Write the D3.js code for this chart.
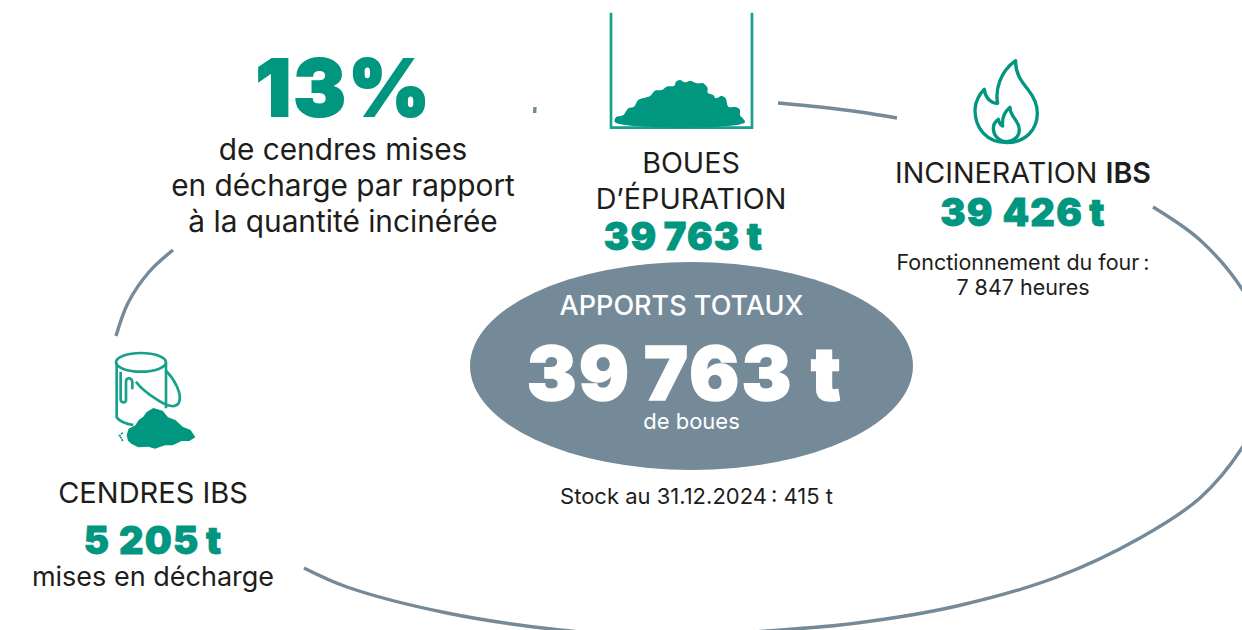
<!DOCTYPE html>
<html>
<head>
<meta charset="utf-8">
<script src="https://cdn.jsdelivr.net/npm/d3@7"></script>
<style>
  html, body { margin: 0; padding: 0; background: #fff; }
  svg { display: block; }
  text { font-family: Inter, "Open Sans", sans-serif; text-anchor: middle; }
</style>
</head>
<body>
<svg id="chart"></svg>
<script>
// *** Data ***
var totalLabel = "APPORTS TOTAUX";
var totalValue = "39\u2009763 t";
var totalUnit = "de boues";
var stockLabel = "Stock au 31.12.2024\u2009: 415 t";
var percentValue = "13%";
var percentLines = ["de cendres mises", "en décharge par rapport", "à la quantité incinérée"];
var sludgeLines = ["BOUES", "D’ÉPURATION"];
var sludgeValue = "39\u2009763\u2009t";
var burnLabel = "INCINERATION ";
var burnLabelBold = "IBS";
var burnValue = "39 426\u2009t";
var burnHours = ["Fonctionnement du four\u2009:", "7 847 heures"];
var ashLabel = "CENDRES IBS";
var ashValue = "5 205\u2009t";
var ashNote = "mises en décharge";

var svgWidth = 1242, svgHeight = 630;
var teal = "#00967f", slate = "#748a98", ink = "#1d1d1b";

var svg = d3.select("#chart")
    .attr("width", svgWidth)
    .attr("height", svgHeight)
    .attr("viewBox", "0 0 " + svgWidth + " " + svgHeight);

// *** The ring: pieces traced from crops, not values ***
var ringPieces = [
    [[778, 103], [820, 107], [860, 112], [897, 118]],
    [[1153, 207], [1200, 240], [1242, 289], [1264, 335], [1266, 375], [1258, 415],
     [1242, 448], [1200, 498], [1140, 538], [1057, 577], [957, 606], [857, 623],
     [767, 631], [660, 637], [560, 630], [447, 613], [347, 587], [304, 568]],
    [[116, 336], [128, 303], [149, 272], [173, 250]],
    [[535, 107], [534.6, 113]]
];

var ringLine = d3.line().curve(d3.curveCatmullRom.alpha(0.5));

svg.append("g").selectAll("path")
    .data(ringPieces)
    .enter()
    .append("path")
    .attr("d", ringLine)
    .attr("fill", "none")
    .attr("stroke", slate)
    .attr("stroke-width", 3.4);

// *** Center ellipse ***
svg.append("ellipse")
    .attr("cx", 691.5).attr("cy", 366)
    .attr("rx", 221.5).attr("ry", 104)
    .attr("fill", slate);

function addText(x, y, str, size, weight, fill) {
    return svg.append("text")
        .attr("x", x).attr("y", y)
        .attr("font-size", size)
        .attr("font-weight", weight)
        .attr("fill", fill)
        .text(str);
}

// same as addText, with a thin outline so the figures look as heavy as the original
function addFigure(x, y, str, size, fill, outlineWidth, spacing) {
    return addText(x, y, str, size, 900, fill)
        .attr("stroke", fill)
        .attr("stroke-width", outlineWidth)
        .attr("letter-spacing", spacing);
}

addText(681.5, 315, totalLabel, 27, 500, "#fff");
addFigure(685, 400, totalValue, 74, "#fff", 1.6, 2.5);
addText(691.5, 429, totalUnit, 22, 400, "#fff");
addText(696.5, 503.5, stockLabel, 22, 400, ink);

// *** 13% block ***
addFigure(344, 116, percentValue, 78, teal, 2, 2.5);
percentLines.forEach(function (d, i) {
    addText(343, 159.5 + i * 36, d, 29.8, 400, ink);
});

// *** Sludge block ***
sludgeLines.forEach(function (d, i) {
    addText(691, 172.5 + i * 36, d, 28.7, 400, ink);
});
addFigure(683.5, 250, sludgeValue, 38, teal, 0.8, 1.2);

// *** Incineration block ***
var burnTitle = addText(1023, 182.5, burnLabel, 28.7, 400, ink);
burnTitle.append("tspan").attr("font-weight", 600).text(burnLabelBold);
addFigure(1023, 226, burnValue, 38, teal, 0.8, 1.2);
burnHours.forEach(function (d, i) {
    addText(1023, 270 + i * 25, d, 21.5, 400, ink);
});

// *** Ash block ***
addText(153, 502.5, ashLabel, 29, 400, ink);
addFigure(153, 554, ashValue, 38, teal, 0.8, 1.2);
addText(153, 586, ashNote, 27, 400, ink);

var outline = d3.line().curve(d3.curveCatmullRomClosed);
var rough = d3.line().curve(d3.curveLinearClosed);

// container with heap
var tank = svg.append("g").attr("transform", "translate(560,0) scale(0.3333)");
tank.append("path")
    .attr("d", "M153 38V383H576V38")
    .attr("fill", "none").attr("stroke", "#17a08b").attr("stroke-width", 8);
tank.append("path")
    .attr("d", outline([[165, 367], [168, 352], [190, 345], [205, 325], [222, 320], [235, 300], [270, 288], [285, 272], [305, 270], [320, 260], [343, 257], [348, 245], [360, 240], [375, 247], [392, 242], [410, 250], [430, 250], [443, 265], [443, 278], [460, 285], [467, 295], [485, 288], [497, 295], [505, 320], [530, 322], [540, 330], [540, 345], [555, 367]]))
    .attr("fill", teal);

// flame
var flame = svg.append("g").attr("transform", "translate(950,50) scale(0.3333)")
    .attr("fill", "none").attr("stroke", teal).attr("stroke-width", 10).attr("stroke-linejoin", "round");
flame.append("path")
    .attr("d", "M170 278C110 278 75 235 75 180C75 155 90 130 103 118C105 140 120 160 143 160C135 120 150 65 197 32C195 70 215 95 235 120C255 145 262 165 262 190C262 240 225 278 170 278Z");
flame.append("path")
    .attr("d", "M170 275C145 275 130 255 130 235C130 225 135 215 145 208C147 218 152 225 158 228C155 205 165 185 180 172C180 190 190 200 198 212C205 222 208 230 208 240C208 260 190 275 170 275Z");

// bucket with ash heap
var bucket = svg.append("g").attr("transform", "translate(100,340) scale(0.3333)")
    .attr("fill", "none").attr("stroke", "#17a08b").attr("stroke-width", 8);
bucket.append("ellipse").attr("cx", 123).attr("cy", 67).attr("rx", 75).attr("ry", 28);
bucket.append("path").attr("d", "M50 68V232C60 245 80 252 100 255M198 68V205");
bucket.append("path").attr("d", "M62 95V178C62 190 80 190 78 178V125C78 110 97 112 97 128V148");
bucket.append("path").attr("d", "M198 92C225 120 245 160 238 185C230 210 195 195 170 178C145 162 122 145 108 125");
bucket.append("path")
    .attr("d", rough([[80, 285], [86, 266], [106, 256], [116, 240], [130, 230], [140, 216], [160, 204], [188, 212], [204, 232], [226, 240], [248, 260], [272, 270], [286, 292], [268, 303], [245, 303], [218, 316], [195, 316], [165, 326], [145, 320], [115, 322], [95, 312], [84, 302]]))
    .attr("fill", teal).attr("stroke", "none");
bucket.append("path")
    .attr("d", "M68 278L58 288L66 296L68 306")
    .attr("stroke", teal).attr("stroke-width", 5).attr("stroke-dasharray", "6 3");
</script>
</body>
</html>
